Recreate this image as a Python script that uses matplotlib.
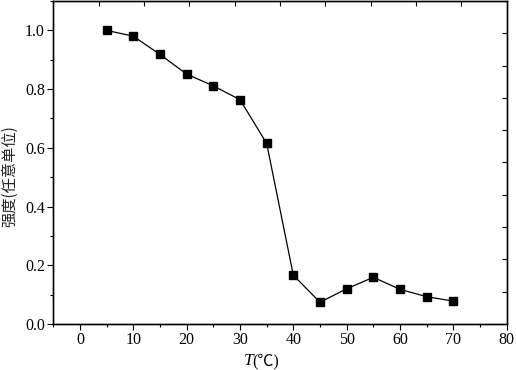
import matplotlib
matplotlib.use("Agg")
import matplotlib.pyplot as plt
from matplotlib.ticker import MultipleLocator, FixedLocator, NullFormatter

temperature = [5, 10, 15, 20, 25, 30, 35, 40, 45, 50, 55, 60, 65, 70]
intensity = [1.0, 0.980, 0.918, 0.851, 0.811, 0.764, 0.615, 0.166, 0.074, 0.120, 0.159, 0.118, 0.093, 0.078]
x_ticks = [0, 10, 20, 30, 40, 50, 60, 70, 80]
y_ticks = [0.0, 0.2, 0.4, 0.6, 0.8, 1.0]
x_label_var = "T"
x_label_unit = "(℃)"
y_label = "强度(任意单位)"

plt.rcParams['font.family'] = ['Liberation Serif', 'Noto Sans CJK SC', 'DejaVu Sans']

fig = plt.figure(figsize=(5.16, 3.70), dpi=100)
ax = fig.add_axes([53.3 / 516, 46 / 370, (506.7 - 53.3) / 516, 323 / 370])

ax.plot(temperature, intensity, color='black', linewidth=0.9,
        marker='s', markersize=5.2, markerfacecolor='black', markeredgecolor='black')

ax.set_xlim(-5, 80)
ax.set_ylim(0, 1.1)
ax.set_xticks(x_ticks)
ax.set_xticklabels([str(v) for v in x_ticks])
ax.set_yticks(y_ticks)
ax.set_yticklabels([f"{v:.1f}" for v in y_ticks])
ax.xaxis.set_minor_locator(MultipleLocator(5))
ax.yaxis.set_minor_locator(MultipleLocator(0.1))

ax.tick_params(axis='both', which='major', direction='out', length=4, width=0.8,
               labelsize=11.5, colors='black', pad=2)
ax.tick_params(axis='both', which='minor', direction='out', length=2.5, width=0.8)
ax.tick_params(top=False, right=False, which='both')

for s in ax.spines.values():
    s.set_linewidth(0.9)
    s.set_color('black')

# Top and right tick marks (independent equal divisions, inward)
axt = ax.twiny()
axt.set_xlim(0, 10)
axt.xaxis.set_major_locator(FixedLocator(list(range(1, 10))))
axt.xaxis.set_major_formatter(NullFormatter())
axt.tick_params(axis='x', direction='in', length=3.5, width=0.8, top=True, bottom=False)
axr = ax.twinx()
axr.set_ylim(0, 10)
axr.yaxis.set_major_locator(FixedLocator(list(range(1, 10))))
axr.yaxis.set_major_formatter(NullFormatter())
axr.tick_params(axis='y', direction='in', length=3.5, width=0.8, right=True, left=False)
for a in (axt, axr):
    for s in a.spines.values():
        s.set_linewidth(0.9)

fig.text(253 / 516, 1 - 361 / 370, x_label_var, ha='right', va='center',
         fontsize=12.5, style='italic', family=['Liberation Serif'])
fig.text(252 / 516, 1 - 361 / 370, x_label_unit, ha='left', va='center',
         fontsize=11.5, family=['Liberation Serif', 'Noto Sans CJK SC', 'DejaVu Sans'])
fig.text(10 / 516, 1 - 176 / 370, y_label, rotation=90, ha='center', va='center',
         fontsize=11, family=['Noto Sans CJK SC', 'DejaVu Sans'], color='#222222')

fig.savefig("out.png", dpi=100)
